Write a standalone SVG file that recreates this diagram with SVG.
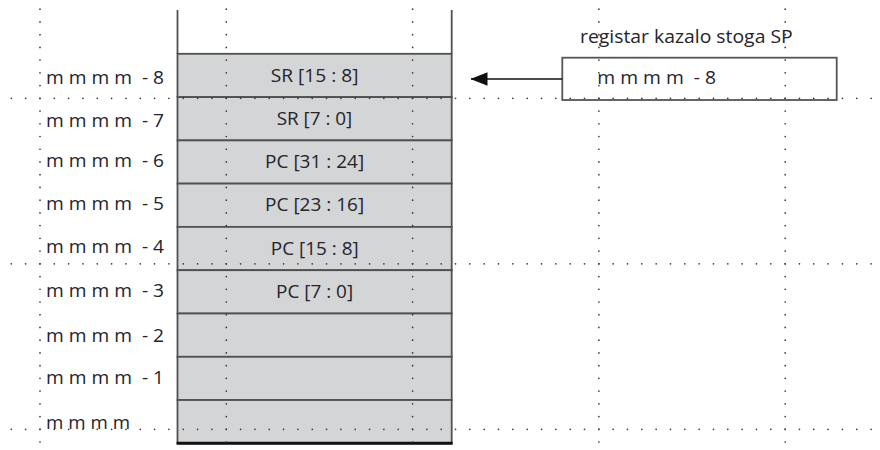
<svg xmlns="http://www.w3.org/2000/svg" width="880" height="450" viewBox="0 0 880 450">
<style>
.bg{fill:#ffffff}
.dh{stroke:#3a3a3a;stroke-width:1.7;stroke-linecap:round;stroke-dasharray:0 14.33;fill:none}
.dv{stroke:#3a3a3a;stroke-width:1.7;stroke-linecap:round;stroke-dasharray:0 12.73;fill:none}
.cell{fill:#d4d5d7;stroke:#505050;stroke-width:1.8}
.side{stroke:#505050;stroke-width:1.8;fill:none}
.t{font-family:"Open Sans","Noto Sans","DejaVu Sans",sans-serif;font-size:17.5px;fill:#24242c;white-space:pre}
.c{text-anchor:middle}
.box{fill:none;stroke:#555555;stroke-width:1.8}
.conn{stroke:#111111;stroke-width:1.5;fill:none}
</style>
<defs>
<marker id="ah" viewBox="0 0 17 14" refX="16.5" refY="7" markerWidth="17" markerHeight="14" markerUnits="userSpaceOnUse" orient="auto">
<path d="M0,0.3 L17,7 L0,13.7 Z" fill="#111111"/>
</marker>
</defs>
<rect class="bg" x="0" y="0" width="880" height="450"/>

<g id="stack">
<g id="cell-1"><rect class="cell" x="177.5" y="53.8" width="274.2" height="43.3"/><text class="t c" x="314.6" y="81.5" textLength="87.6" lengthAdjust="spacingAndGlyphs">SR [15 : 8]</text></g>
<g id="cell-2"><rect class="cell" x="177.5" y="97.1" width="274.2" height="43.3"/><text class="t c" x="314.5" y="125" textLength="75.6" lengthAdjust="spacingAndGlyphs">SR [7 : 0]</text></g>
<g id="cell-3"><rect class="cell" x="177.5" y="140.4" width="274.2" height="43.2"/><text class="t c" x="314.6" y="168" textLength="99" lengthAdjust="spacingAndGlyphs">PC [31 : 24]</text></g>
<g id="cell-4"><rect class="cell" x="177.5" y="183.6" width="274.2" height="43.3"/><text class="t c" x="314.6" y="211" textLength="99" lengthAdjust="spacingAndGlyphs">PC [23 : 16]</text></g>
<g id="cell-5"><rect class="cell" x="177.5" y="226.9" width="274.2" height="43.3"/><text class="t c" x="314.8" y="255" textLength="88" lengthAdjust="spacingAndGlyphs">PC [15 : 8]</text></g>
<g id="cell-6"><rect class="cell" x="177.5" y="270.2" width="274.2" height="43.3"/><text class="t c" x="314.6" y="298" textLength="77" lengthAdjust="spacingAndGlyphs">PC [7 : 0]</text></g>
<g id="cell-7"><rect class="cell" x="177.5" y="313.5" width="274.2" height="43.3"/></g>
<g id="cell-8"><rect class="cell" x="177.5" y="356.8" width="274.2" height="43.2"/></g>
<g id="cell-9"><rect class="cell" x="177.5" y="400" width="274.2" height="43.3"/></g>
<line class="side" x1="177.5" y1="10" x2="177.5" y2="53.8"/>
<line class="side" x1="451.7" y1="10" x2="451.7" y2="53.8"/>
<line x1="176.6" y1="443.3" x2="452.6" y2="443.3" stroke="#111111" stroke-width="3"/>
</g>

<g id="grid">
<line class="dh" x1="11.3" y1="98.3" x2="872.5" y2="98.3"/>
<line class="dh" x1="11.3" y1="263.8" x2="872.5" y2="263.8"/>
<line class="dh" x1="11.3" y1="429.3" x2="872.5" y2="429.3"/>
<line class="dv" x1="40" y1="9.2" x2="40" y2="443"/>
<line class="dv" x1="226.3" y1="9.2" x2="226.3" y2="443"/>
<line class="dv" x1="412.6" y1="9.2" x2="412.6" y2="443"/>
<line class="dv" x1="598.9" y1="9.2" x2="598.9" y2="443"/>
<line class="dv" x1="785.2" y1="9.2" x2="785.2" y2="443"/>
</g>

<g id="addresses">
<text class="t" x="46" y="84" textLength="118" lengthAdjust="spacingAndGlyphs">m m m m  - 8</text>
<text class="t" x="46" y="126.5" textLength="118" lengthAdjust="spacingAndGlyphs">m m m m  - 7</text>
<text class="t" x="46" y="167" textLength="118" lengthAdjust="spacingAndGlyphs">m m m m  - 6</text>
<text class="t" x="46" y="209.5" textLength="118" lengthAdjust="spacingAndGlyphs">m m m m  - 5</text>
<text class="t" x="46" y="253" textLength="118" lengthAdjust="spacingAndGlyphs">m m m m  - 4</text>
<text class="t" x="46" y="296.5" textLength="118" lengthAdjust="spacingAndGlyphs">m m m m  - 3</text>
<text class="t" x="46" y="341.5" textLength="118" lengthAdjust="spacingAndGlyphs">m m m m  - 2</text>
<text class="t" x="46" y="383.5" textLength="118" lengthAdjust="spacingAndGlyphs">m m m m  - 1</text>
<text class="t" x="46" y="428.5" textLength="84" lengthAdjust="spacingAndGlyphs">m m m m</text>
</g>

<g id="register">
<text class="t" x="580" y="43" textLength="212.7" lengthAdjust="spacingAndGlyphs">registar kazalo stoga SP</text>
<rect class="box" x="562.3" y="57.7" width="274.4" height="42.3"/>
<text class="t" x="597.3" y="83.5" textLength="118.7" lengthAdjust="spacingAndGlyphs">m m m m  - 8</text>
</g>

<g id="connectors">
<line class="conn" x1="562.3" y1="79" x2="471" y2="79" marker-end="url(#ah)"/>
</g>
</svg>
